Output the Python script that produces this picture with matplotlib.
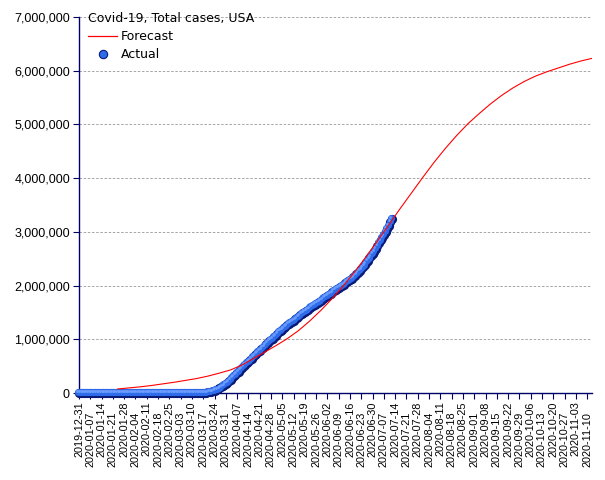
import matplotlib
matplotlib.use('Agg')
import matplotlib.pyplot as plt
import matplotlib.dates as mdates
import matplotlib.transforms as mtransforms
from matplotlib.lines import Line2D
from matplotlib.ticker import FuncFormatter
import pandas as pd

#%% DATA
chart_title = 'Covid-19, Total cases, USA'
series_names = ['Forecast', 'Actual']

# daily cumulative cases, first day 2019-12-31
actual_start = '2019-12-31'
actual_cases = [
    0,                                                                  # Dec 31
    0, 0, 0, 0, 0, 0, 0, 0, 0, 0,                                       # Jan
    0, 0, 0, 0, 0, 0, 0, 0, 0, 0,
    0, 1, 1, 1, 2, 2, 5, 5, 5, 5, 6,
    7, 8, 11, 11, 11, 12, 12, 12, 12, 12,                               # Feb
    13, 13, 14, 15, 15, 15, 15, 15, 15, 15,
    15, 35, 35, 35, 53, 57, 60, 60, 62,
    68, 75, 100, 124, 158, 221, 319, 435, 541, 704,                     # Mar
    994, 1301, 1630, 2183, 2770, 3613, 4596, 6344, 9197, 13779,
    19367, 24192, 33592, 43781, 54856, 68211, 85435, 104126, 125313, 143779, 164620,
    189618, 216721, 245540, 277965, 312237, 337072, 366667, 396223, 429052, 461437,   # Apr
    496535, 526396, 555313, 580619, 607670, 636350, 667592, 699706, 732197, 758809,
    784326, 811865, 840351, 869170, 905358, 938154, 965785, 988197, 1012582, 1039909,
    1069424, 1103461, 1132539, 1158040, 1180375, 1204351, 1229331, 1257023, 1283929, 1309550,   # May
    1329260, 1347881, 1369376, 1390406, 1417774, 1442824, 1467820, 1486757, 1508308, 1528568,
    1551853, 1577147, 1600937, 1622612, 1643246, 1662302, 1680913, 1699933, 1721750, 1746019, 1770165,
    1790191, 1811277, 1831821, 1851520, 1872660, 1897380, 1920061, 1938823, 1956421, 1973797,   # Jun
    1994283, 2016027, 2041354, 2066319, 2085769, 2104346, 2127869, 2151872, 2178710, 2210288,
    2242130, 2268753, 2299650, 2336615, 2375367, 2416084, 2461514, 2504175, 2545250, 2585349,
    2632148, 2682897, 2737426, 2794153, 2839436, 2888730, 2936077, 2996098, 3054695, 3117946,   # Jul
    3184722, 3245925,
]

forecast_start = '2020-01-24'
forecast_cases = [
    75000, 95000, 115000, 140000, 170000, 200000, 235000, 270000, 315000, 370000,
    430000, 520000, 640000, 760000, 880000, 1010000, 1160000, 1340000, 1540000, 1760000,
    2000000, 2260000, 2540000, 2830000, 3130000, 3430000, 3720000, 4010000, 4290000, 4550000,
    4790000, 5010000, 5200000, 5380000, 5540000, 5680000, 5800000, 5900000, 5980000, 6050000,
    6120000, 6180000, 6230000,
]

tick_first = '2019-12-31'
tick_last = '2020-11-10'
x_end = '2020-11-13'
y_ticks = [0, 1000000, 2000000, 3000000, 4000000, 5000000, 6000000, 7000000]

#%% PLOT
navy = '#000066'
actual_dates = pd.date_range(actual_start, periods=len(actual_cases), freq='D')
forecast_dates = pd.date_range(forecast_start, periods=len(forecast_cases), freq='7D')

fig = plt.figure(figsize=(6.05, 4.8), dpi=100)
ax = fig.add_axes([79 / 605, 1 - 393 / 480, 513 / 605, 376 / 480])

# shaded balls: dark body, blue face shifted up-left, small highlight
ax.plot(actual_dates, actual_cases, ls='none', marker='o', ms=6.6,
        mfc='#0a1a78', mec='none', zorder=3, clip_on=False)
face = mtransforms.offset_copy(ax.transData, fig=fig, x=-0.6, y=0.6, units='points')
ax.plot(actual_dates, actual_cases, ls='none', marker='o', ms=5.0,
        mfc='#2f6cea', mec='none', zorder=4, clip_on=False, transform=face)
shine = mtransforms.offset_copy(ax.transData, fig=fig, x=-1.2, y=1.2, units='points')
ax.plot(actual_dates, actual_cases, ls='none', marker='o', ms=2.0,
        mfc='#6c9cff', mec='none', zorder=5, clip_on=False, transform=shine)

ax.plot(forecast_dates, forecast_cases, color='#ff0000', lw=0.8, zorder=6)

ax.set_ylim(0, 7000000)
ax.set_xlim(pd.Timestamp(tick_first), pd.Timestamp(x_end))
ax.set_yticks(y_ticks)
ax.yaxis.set_major_formatter(FuncFormatter(lambda v, p: f'{int(v):,}'))
ax.grid(axis='y', color='#999999', ls=(0, (3, 2)), lw=0.6)
ax.set_axisbelow(True)

# weekly ticks, every other label dropped a row lower
weeks = pd.date_range(tick_first, tick_last, freq='7D')
ax.set_xticks(weeks[::2])
ax.set_xticks(weeks[1::2], minor=True)
fmt = mdates.DateFormatter('%Y-%m-%d')
ax.xaxis.set_major_formatter(fmt)
ax.xaxis.set_minor_formatter(fmt)
for which, pad in (('major', 1.5), ('minor', 9.0)):
    ax.tick_params(axis='x', which=which, length=4.5, width=0.8, color=navy,
                   pad=pad, labelrotation=90, labelsize=7.8)
for lab in ax.get_xticklabels(which='both'):
    lab.set_fontfamily('Liberation Sans')
ax.tick_params(axis='y', length=4.5, width=0.8, color=navy, pad=2, labelsize=9)
for lab in ax.get_yticklabels():
    lab.set_fontfamily('Liberation Sans')

for side in ('top', 'right'):
    ax.spines[side].set_visible(False)
for side in ('left', 'bottom'):
    ax.spines[side].set_color(navy)
    ax.spines[side].set_linewidth(1.0)

handles = [
    Line2D([], [], color='#ff0000', lw=0.9),
    Line2D([], [], ls='none', marker='o', ms=6, mfc='#2f6cea', mec='#0a1a78', mew=0.8),
]
leg = ax.legend(handles, series_names, title=chart_title, loc='upper left',
                bbox_to_anchor=(88 / 605, 1 - 12 / 480), bbox_transform=fig.transFigure,
                frameon=False, fontsize=9, title_fontsize=9, borderpad=0,
                borderaxespad=0, handlelength=2.35, handletextpad=0.3,
                labelspacing=0.4, alignment='left')
leg.set_zorder(10)

fig.savefig('out.png', dpi=100)
